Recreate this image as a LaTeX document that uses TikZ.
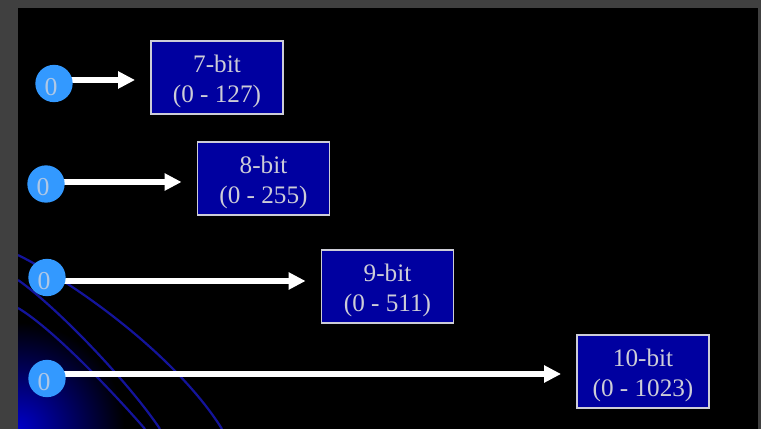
\documentclass[tikz,border=0pt]{standalone}
\usepackage{fontspec}
\setmainfont{Liberation Serif}
\usetikzlibrary{arrows.meta,calc}
\definecolor{framegray}{RGB}{64,64,64}
\definecolor{bitblue}{RGB}{0,0,160}
\definecolor{dotblue}{RGB}{51,153,255}
\definecolor{txtgray}{RGB}{205,205,215}
\definecolor{zerogray}{RGB}{175,200,230}
\definecolor{arcblue}{RGB}{20,20,155}
\definecolor{glowblue}{RGB}{0,0,200}
\newcommand{\bitstrut}{\rule{0pt}{21pt}}
\begin{document}
\begin{tikzpicture}[x=0.03cm,y=-0.03cm,
  bitbox/.style={draw=txtgray, line width=1.2pt, fill=bitblue, inner sep=0pt,
    minimum width=3.96cm, minimum height=2.19cm, align=center, text=txtgray,
    font=\fontsize{21.5}{25.6}\selectfont},
  zero/.style={circle, fill=dotblue, inner sep=0pt, minimum size=1.12cm,
    text=zerogray, font=\fontsize{22}{22}\selectfont},
  arr/.style={white, line width=5pt, -{Triangle[length=14.5pt,width=14pt]}, shorten >=13pt},
  deco/.style={arcblue, line width=1.9pt}
]
\useasboundingbox (0,0) rectangle (761,429);
\fill[framegray] (0,0) rectangle (761,429);
\fill[black] (18,8) rectangle (758,429);
\begin{scope}
  \clip (18,8) rectangle (758,429);
  \shade[inner color=glowblue, outer color=black] (18,429) circle (3.2cm);
  \draw[deco] (18,255) .. controls (78,285) and (177,357) .. (222,429);
  \draw[deco] (18,280) .. controls (58,308) and (130,384) .. (160,429);
  \draw[deco] (18,308) .. controls (55,330) and (120,400) .. (145,429);
\end{scope}

\node[bitbox] (b1) at (217,77.5) {\bitstrut 7-bit\\(0 - 127)};
\node[bitbox] (b2) at (263.5,178.5) {\bitstrut 8-bit\\(0 - 255)};
\node[bitbox] (b3) at (387.5,286.5) {\bitstrut 9-bit\\(0 - 511)};
\node[bitbox] (b4) at (643,371.5) {\bitstrut 10-bit\\(0 - 1023)};

\coordinate (s1) at (54,80);
\coordinate (s2) at (46,182);
\coordinate (s3) at (47,281);
\coordinate (s4) at (47,374);
\draw[arr] (s1) -- (s1 -| b1.west);
\draw[arr] (s2) -- (s2 -| b2.west);
\draw[arr] (s3) -- (s3 -| b3.west);
\draw[arr] (s4) -- (s4 -| b4.west);

\node[zero] (c1) at (54,83.5) {\rule{0pt}{20pt}0\kern5pt};
\node[zero] (c2) at (46,184) {\rule{0pt}{20pt}0\kern5pt};
\node[zero] (c3) at (47,277.5) {\rule{0pt}{20pt}0\kern5pt};
\node[zero] (c4) at (47,378.5) {\rule{0pt}{20pt}0\kern5pt};
\end{tikzpicture}
\end{document}
